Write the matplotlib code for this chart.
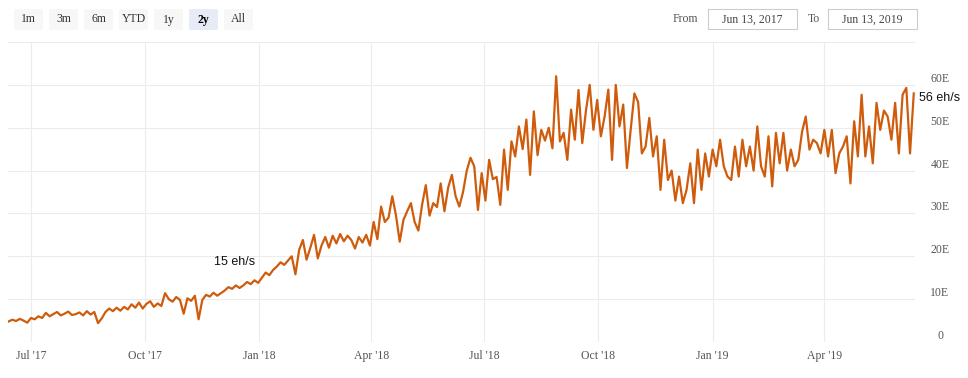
import pandas as pd
import numpy as np
import matplotlib
matplotlib.use('Agg')
import matplotlib.pyplot as plt
import matplotlib.dates as mdates
from matplotlib.patches import FancyBboxPatch, Rectangle

# hash rate in EH/s, every 3 days starting Jun 13 2017
start_date = '2017-06-13'
hashrate = [
    4.8, 5.2, 4.9, 5.4, 5.0, 4.5, 5.6, 5.3, 6.0, 5.6,
    6.8, 6.0, 6.5, 7.0, 6.2, 6.6, 7.1, 6.3, 6.5,
    6.9, 6.2, 7.2, 6.4, 7.0,
    4.4, 5.5,
    7.0, 7.8, 7.2, 8.0, 7.3, 8.2,
    7.6, 8.8, 8.0, 9.2, 7.8, 8.9,
    9.5, 8.2, 9.0, 8.4,
    11.4, 10.0, 9.4, 10.5, 9.8,
    6.6, 10.2, 9.6, 10.8, 5.3, 9.8,
    11.0, 10.6, 11.5, 10.8, 11.4,
    12.0, 12.8, 12.4, 13.2, 12.6,
    13.2, 14.0, 13.5, 14.4, 13.8,
    15.0, 16.2, 15.6, 16.8,
    17.6, 18.6, 18.0, 19.0,
    20.0, 15.8, 21.5, 23.8, 19.2, 22.0, 25.0, 19.5,
    22.5, 24.5, 22.0, 24.8, 23.0,
    25.2, 23.5, 24.8, 23.8,
    21.8, 24.5, 23.2, 25.0, 22.5,
    28.0, 24.0, 31.6, 28.0, 29.0, 34.0, 29.5, 23.4, 28.5, 30.5,
    32.4, 28.0, 26.0, 32.0, 36.6, 29.5, 32.4, 31.5, 37.0, 30.5,
    36.0, 39.0, 34.0, 31.6,
    35.0, 40.0, 43.0, 41.0,
    30.8, 39.4, 33.0, 42.5, 38.0, 38.5, 32.0, 44.9, 35.5, 46.8,
    43.3, 50.3, 45.0, 51.9, 39.0, 53.8, 43.6, 49.5, 47.0, 50.0,
    45.2, 62.0, 46.8, 48.8, 42.5, 54.2, 47.2, 58.8, 46.4, 54.0,
    60.0, 49.5, 56.5, 48.0,
    52.6, 58.9, 42.5, 60.0, 50.3, 55.4, 40.6, 49.5, 58.0, 56.0,
    44.0, 45.6, 52.3, 43.3, 48.0, 35.5, 47.2, 37.8, 40.0, 33.0,
    38.6, 32.4, 35.5, 41.7, 32.4, 44.9, 35.5, 44.0, 38.6, 44.9,
    41.0, 47.2, 41.0, 38.6, 37.8, 45.6, 38.6, 47.2, 41.0, 45.6,
    40.0, 50.3, 41.0, 38.6, 48.0, 36.3, 48.8, 41.7, 48.8, 40.0,
    44.9, 41.0, 42.5, 49.0, 52.6, 44.9, 47.2, 46.4, 44.0, 49.5,
    43.3, 49.5, 39.4, 44.0, 45.6, 48.0, 37.0, 51.5, 43.3, 57.7,
    43.3, 50.3, 41.7, 55.8, 49.5, 54.0, 52.6, 47.2, 55.8, 44.0,
    57.7, 59.3, 44.0, 58.0,
]
dates = pd.date_range(start_date, periods=len(hashrate), freq='3D')

y_ticks = [0, 10, 20, 30, 40, 50, 60]
y_labels = ['0', '10E', '20E', '30E', '40E', '50E', '60E']
buttons = ['1m', '3m', '6m', 'YTD', '1y', '2y', 'All']
selected = '2y'
from_date = 'Jun 13, 2017'
to_date = 'Jun 13, 2019'

W, H = 968, 378
line_color = '#cf5c0c'
grid_color = '#ececec'
serif = 'Liberation Serif'
sans = 'Liberation Sans'

fig = plt.figure(figsize=(W / 100, H / 100), dpi=100)
fig.patch.set_facecolor('white')

# plot area in pixels: x 8..915, y 42..342
ax = fig.add_axes([8 / W, 1 - 342 / H, (915 - 8) / W, (342 - 42) / H])
ax.plot(dates, hashrate, color=line_color, lw=1.6, solid_joinstyle='round', zorder=3)

ax.set_xlim(pd.Timestamp('2017-06-12 12:00'), pd.Timestamp('2019-06-13'))
ax.set_ylim(0, 70)

# horizontal grid (plus one top line at 70)
for v in y_ticks + [70]:
    ax.axhline(v, color=grid_color, lw=0.8, zorder=1)

ax.xaxis.set_major_locator(mdates.MonthLocator(bymonth=[1, 4, 7, 10]))
ax.xaxis.set_major_formatter(mdates.DateFormatter("%b '%y"))
ax.grid(axis='x', color=grid_color, lw=0.8, zorder=1)
ax.tick_params(axis='x', length=0, pad=6, labelsize=8.5, labelcolor='#555555')
for lab in ax.get_xticklabels():
    lab.set_fontfamily(serif)

ax.yaxis.tick_right()
ax.set_yticks(y_ticks)
ax.set_yticklabels(y_labels)
ax.tick_params(axis='y', length=0, pad=18, labelsize=8.5, labelcolor='#555555')
for lab in ax.get_yticklabels():
    lab.set_fontfamily(serif)
    lab.set_ha('center')
    lab.set_va('bottom')

for s in ax.spines.values():
    s.set_visible(False)

# annotations
ax.annotate('15 eh/s', xy=(235 / W, 1 - 262 / H), xycoords='figure fraction',
            ha='center', va='center', fontsize=9, family=sans, color='#111111')
ax.annotate('56 eh/s', xy=(940 / W, 1 - 98 / H), xycoords='figure fraction',
            ha='center', va='center', fontsize=9, family=sans, color='#111111')

# range selector buttons
for i, b in enumerate(buttons):
    x0 = 14 + i * 35
    is_sel = (b == selected)
    box = FancyBboxPatch((x0 / W, 1 - 30 / H), 29 / W, 21 / H,
                         boxstyle='round,pad=0,rounding_size=0.003',
                         transform=fig.transFigure,
                         facecolor='#e6ebf5' if is_sel else '#f7f7f7',
                         edgecolor='none')
    fig.patches.append(box)
    fig.text((x0 + 14.5) / W, 1 - 19.5 / H, b, ha='center', va='center',
             fontsize=8.5, family=serif, color='#000000' if is_sel else '#333333',
             weight='bold' if is_sel else 'normal')

# date range inputs
fig.text(685 / W, 1 - 19.5 / H, 'From', ha='center', va='center',
         fontsize=8.5, family=serif, color='#555555')
fig.text(814 / W, 1 - 19.5 / H, 'To', ha='center', va='center',
         fontsize=8.5, family=serif, color='#555555')
for x0, txt in [(708, from_date), (828, to_date)]:
    r = Rectangle((x0 / W, 1 - 29 / H), 89 / W, 20 / H, transform=fig.transFigure,
                  facecolor='white', edgecolor='#cccccc', lw=0.8)
    fig.patches.append(r)
    fig.text((x0 + 44.5) / W, 1 - 19.5 / H, txt, ha='center', va='center',
             fontsize=8.5, family=serif, color='#444444')

plt.savefig('out.png', dpi=100)
print('done')
